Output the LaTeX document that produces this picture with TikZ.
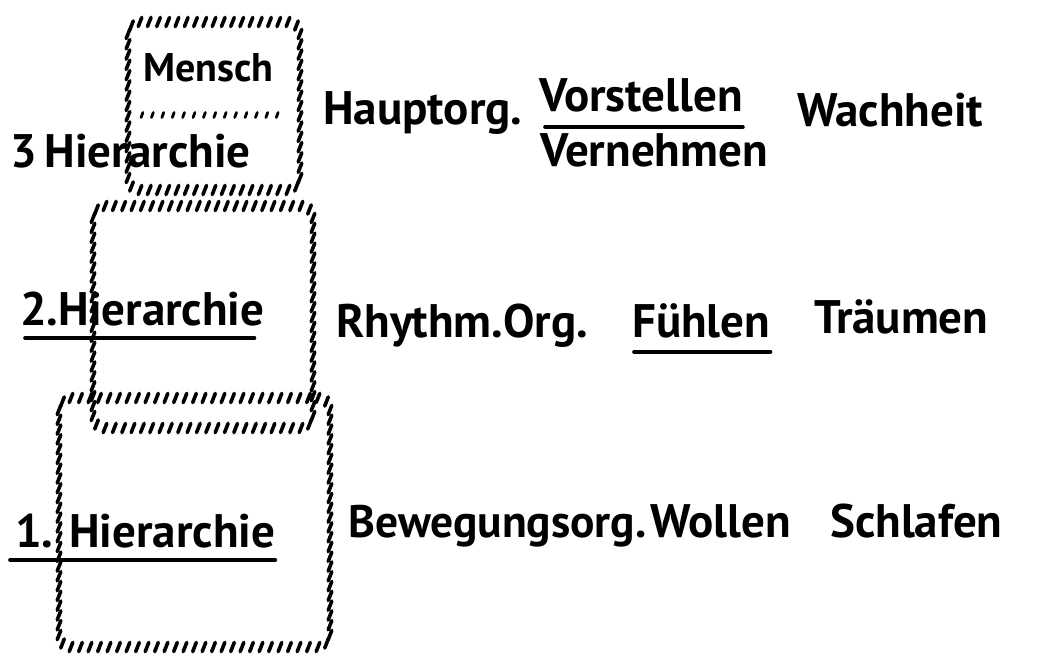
\documentclass[tikz,border=0pt]{standalone}
\usepackage{fontspec}
\setmainfont{PT Sans}

\tikzset{
  hatch/.style={line width=3.6pt, line cap=round},
  hatchsmall/.style={line width=2.8pt, line cap=round},
  hand/.style={anchor=base west, inner sep=0pt, font=\fontsize{47}{56}\selectfont\bfseries},
  narrow/.style={font=\fontsize{45.5}{52}\selectfont\bfseries},
  small/.style={font=\fontsize{40}{48}\selectfont\bfseries},
  uline/.style={line width=3.6pt, line cap=round}
}

% hatched box: #1,#2 top left, #3,#4 bottom right
\newcommand{\hatchbox}[4]{%
  \pgfmathtruncatemacro{\hnx}{round((#3-#1-24)/9.5)}
  \pgfmathtruncatemacro{\hny}{round((#4-#2-24)/10)}
  \foreach \i in {0,...,\hnx}{
    \pgfmathsetmacro{\hx}{#1+12+\i*(#3-#1-24)/\hnx}
    \draw[hatch] (\hx,#2) ++(-1.8,4.6) -- ++(3.6,-9.2);
    \draw[hatch] (\hx,#4) ++(-1.8,4.6) -- ++(3.6,-9.2);
  }
  \foreach \i in {0,...,\hny}{
    \pgfmathsetmacro{\hy}{#2+12+\i*(#4-#2-24)/\hny}
    \draw[hatch] (#1,\hy) ++(-1.8,4.6) -- ++(3.6,-9.2);
    \draw[hatch] (#3,\hy) ++(-1.8,4.6) -- ++(3.6,-9.2);
  }
  \foreach \cx/\cy in {#1+3.5/#2+3.5, #3-3.5/#2+3.5, #1+3.5/#4-3.5, #3-3.5/#4-3.5}
    \draw[hatch] (\cx,\cy) ++(-1.8,4.6) -- ++(3.6,-9.2);
}

\begin{document}
\begin{tikzpicture}[x=1pt, y=-1pt]
  \useasboundingbox (0,0) rectangle (1037,658);

  % the three hierarchy boxes
  \hatchbox{128}{22}{300}{190}
  \foreach \i in {0,...,13}
    \draw[hatchsmall] (142+\i*10.4,115) ++(-0.9,2.5) -- ++(1.8,-5);
  \hatchbox{93}{206}{313}{428}
  \hatchbox{59}{398}{330}{647}

  % left labels
  \node[hand, small] (mensch) at (143,82) {Mensch};
  \node[hand] (hier3) at (10,168) {3\,Hierarchie};
  \node[hand] (hier2) at (20,325) {2.Hierarchie};
  \node[hand] (hier1) at (15,547) {1. Hierarchie};
  \draw[uline] ([xshift=5pt, yshift=-13pt]hier2.base west) -- ([xshift=-10pt, yshift=-13pt]hier2.base east);
  \draw[uline] ([xshift=-5pt, yshift=-13pt]hier1.base west) -- ([yshift=-13pt]hier1.base east);

  % 3. Hierarchie
  \node[hand] (haupt) at (323,125) {Hauptorg.};
  \node[hand] (vorst) at (539,112) {Vorstellen};
  \node[hand] (vern) at (540,167) {Vernehmen};
  \node[hand] (wach) at (797,127) {Wachheit};
  \draw[uline] ([xshift=6pt, yshift=-15pt]vorst.base west) -- ([yshift=-15pt]vorst.base east);

  % 2. Hierarchie
  \node[hand] (rhythm) at (336,337) {Rhythm.Org.};
  \node[hand] (fuehlen) at (632,337) {Fühlen};
  \node[hand] (traeumen) at (814,333) {Träumen};
  \draw[uline] ([xshift=2pt, yshift=-15pt]fuehlen.base west) -- ([yshift=-15pt]fuehlen.base east);

  % 1. Hierarchie
  \node[hand, narrow] (beweg) at (348,537) {Bewegungsorg.};
  \node[hand] (wollen) at (650,537) {Wollen};
  \node[hand] (schlafen) at (830,537) {Schlafen};
\end{tikzpicture}
\end{document}
